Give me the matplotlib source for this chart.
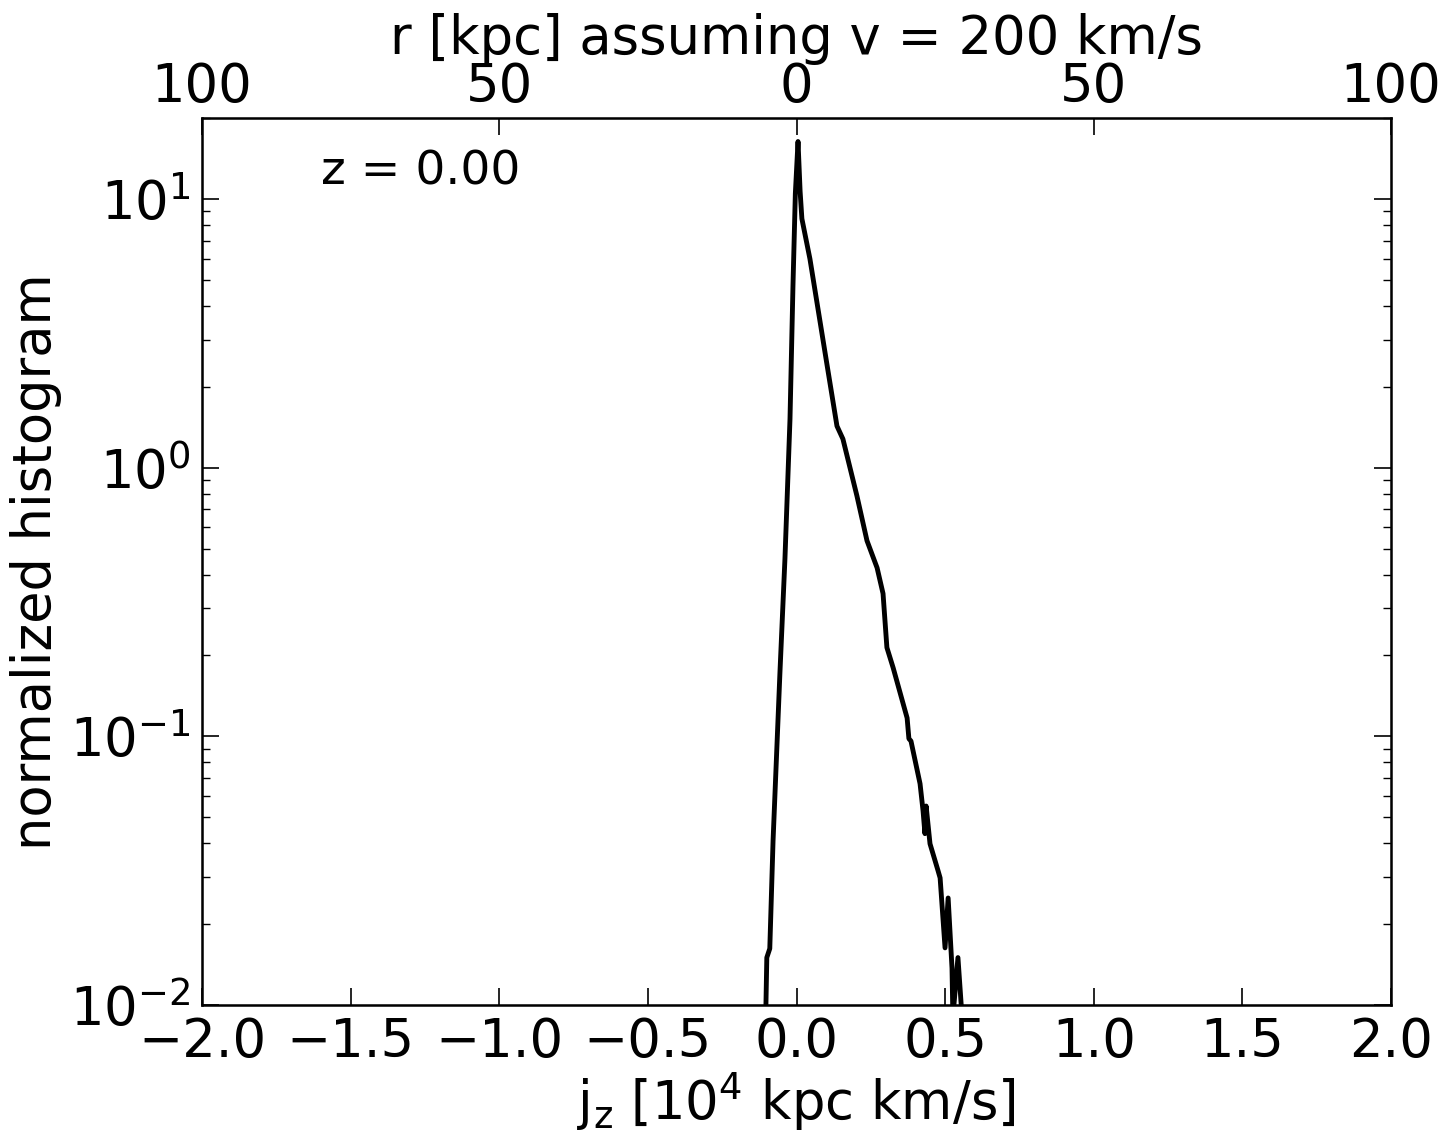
import matplotlib
matplotlib.use('Agg')
import matplotlib.pyplot as plt
from matplotlib.ticker import LogFormatterMathtext, FixedLocator, MultipleLocator

plt.rcParams['mathtext.default'] = 'regular'
plt.rcParams['font.family'] = 'DejaVu Sans'

# j_z histogram at z = 0 (x in 1e4 kpc km/s)
jz = [-0.108, -0.100, -0.090, -0.079, -0.056, -0.039, -0.022, -0.012, -0.004, 0.005,
      0.012, 0.018, 0.045, 0.103, 0.136, 0.156, 0.203, 0.237, 0.271, 0.291,
      0.304, 0.325, 0.372, 0.378, 0.385, 0.4155, 0.4256, 0.432, 0.436, 0.449,
      0.476, 0.483, 0.4996, 0.510, 0.523, 0.526, 0.543, 0.560]
hist = [0.005, 0.0150, 0.0162, 0.0408, 0.171, 0.458, 1.52, 4.76, 10.5, 16.4,
        10.7, 8.46, 6.0, 2.40, 1.43, 1.28, 0.787, 0.535, 0.424, 0.34,
        0.214, 0.18, 0.117, 0.098, 0.096, 0.0666, 0.0528, 0.0434, 0.055, 0.0398,
        0.0316, 0.0297, 0.0163, 0.0250, 0.0137, 0.009, 0.0150, 0.008]

top_ticks = [-2, -1, 0, 1, 2]
top_labels = ['100', '50', '0', '50', '100']

fig = plt.figure(figsize=(14.43, 11.38), dpi=100)
ax = fig.add_axes([0.14, 0.117, 0.824, 0.779])

ax.plot(jz, hist, color='black', lw=3.5)
ax.set_yscale('log')
ax.set_xlim(-2, 2)
ax.set_ylim(0.01, 20)
ax.xaxis.set_major_locator(MultipleLocator(0.5))
ax.yaxis.set_major_formatter(LogFormatterMathtext())
ax.tick_params(which='both', direction='in', top=False, right=True, labelsize=38)
ax.tick_params(which='major', length=12, width=1.2, pad=8)
ax.tick_params(which='minor', length=6, width=1.0)
for s in ax.spines.values():
    s.set_linewidth(1.8)

ax.set_xlabel(r'j$_z$ [10$^4$ kpc km/s]', fontsize=38, labelpad=2)
ax.set_ylabel('normalized histogram', fontsize=38, labelpad=6)
ax.text(0.1, 0.965, 'z = 0.00', transform=ax.transAxes, fontsize=34, va='top')

ax2 = ax.twiny()
ax2.set_xlim(ax.get_xlim())
ax2.xaxis.set_major_locator(FixedLocator(top_ticks))
ax2.set_xticklabels(top_labels)
ax2.tick_params(direction='in', length=12, width=1.2, labelsize=38, pad=4)
ax2.set_xlabel('r [kpc] assuming v = 200 km/s', fontsize=38, labelpad=5)

fig.savefig('out.png', dpi=100)
